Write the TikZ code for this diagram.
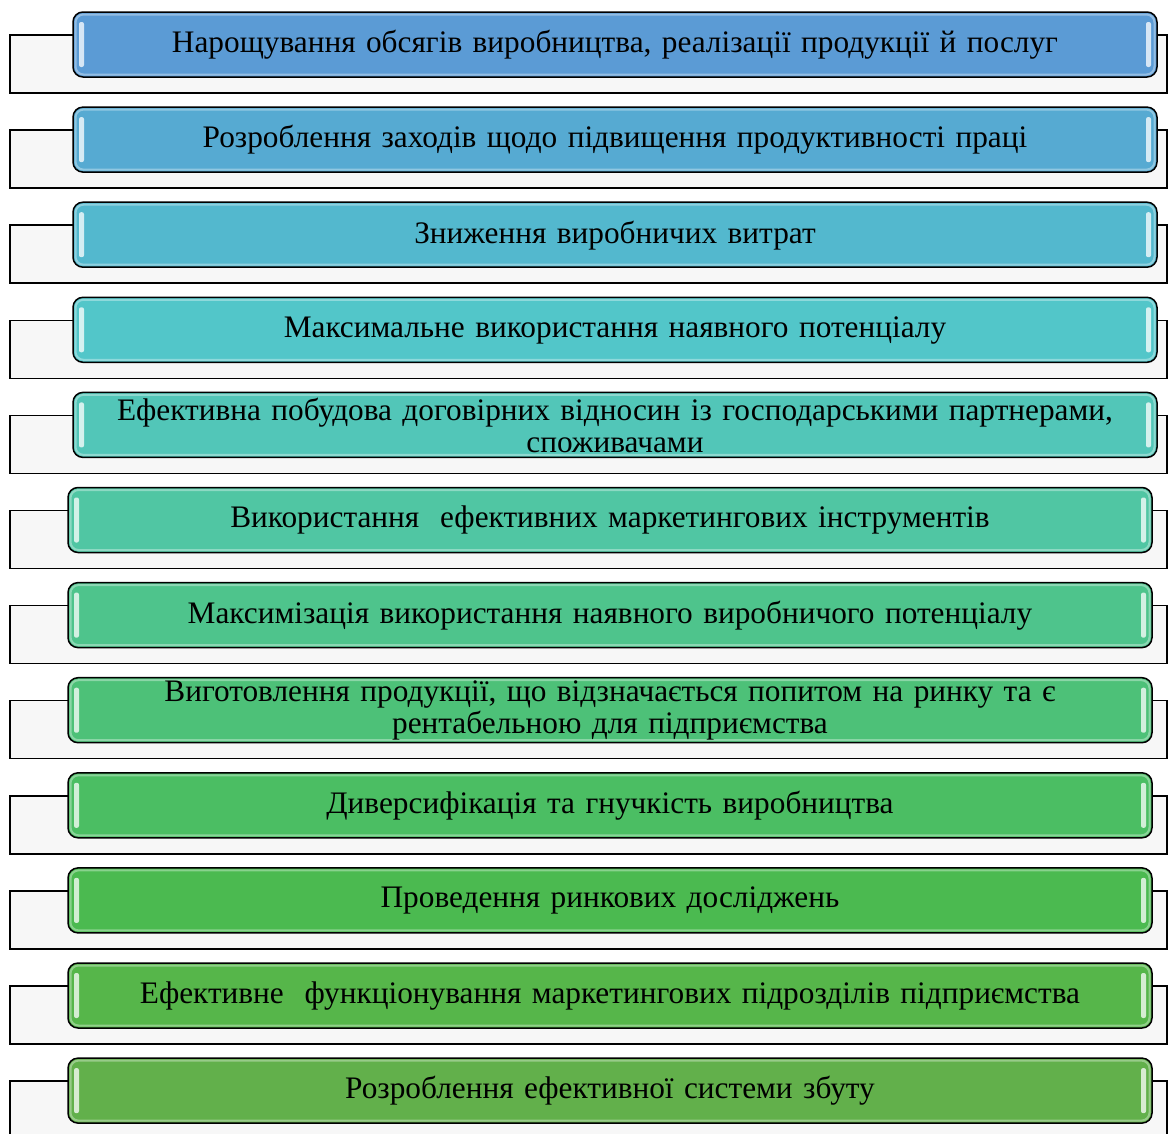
\documentclass[tikz,border=0pt]{standalone}
\usepackage{fontspec}
\setmainfont{Liberation Serif}
\usepackage{tikz}
\usetikzlibrary{calc}
\definecolor{rowA}{HTML}{5B9BD5}
\definecolor{rowB}{HTML}{56AAD2}
\definecolor{rowC}{HTML}{53B8CE}
\definecolor{rowD}{HTML}{52C6C9}
\definecolor{rowE}{HTML}{52C6B8}
\definecolor{rowF}{HTML}{50C6A3}
\definecolor{rowG}{HTML}{4EC48C}
\definecolor{rowH}{HTML}{4DC178}
\definecolor{rowI}{HTML}{4BBE63}
\definecolor{rowJ}{HTML}{4BBA50}
\definecolor{rowK}{HTML}{56B64A}
\definecolor{rowL}{HTML}{62B04B}
% (name:top:left:right)[colour]{text}
\def\planrow(#1:#2:#3:#4)[#5]#6{%
	\draw[line width=1.5pt, fill=black!3] (10, #2+23) rectangle (1167, #2+81);
	\draw[line width=1.5pt, fill=#5, rounded corners=10pt] (#3, #2) rectangle (#4, #2+65);
	\draw[line width=2pt, white, opacity=0.35, rounded corners=8pt] (#3+2.5, #2+2.5) rectangle (#4-2.5, #2+62.5);
	\fill[#5!25!white, rounded corners=2pt] (#3+6, #2+10) rectangle (#3+11, #2+55);
	\fill[#5!25!white, rounded corners=2pt] (#4-11, #2+10) rectangle (#4-6, #2+55);
	\node[text width=1060pt, align=center, font=\fontsize{31.3}{32}\selectfont, inner sep=0pt] (#1) at ({(#3+#4)/2}, #2+33) {#6};
}

\begin{document}
\begin{tikzpicture}[x=1pt, y=-1pt]
		%%%%% START %%%%%
		\useasboundingbox (0, 0) rectangle (1170, 1133);
		
		\planrow(obsyahy:12:73:1157)[rowA]{Нарощування обсягів виробництва, реалізації продукції й послуг}
		\planrow(pratsia:107.1:73:1157)[rowB]{Розроблення заходів щодо підвищення продуктивності праці}
		\planrow(vytraty:202.2:73:1157)[rowC]{Зниження виробничих витрат}
		\planrow(potentsial:297.3:73:1157)[rowD]{Максимальне використання наявного потенціалу}
		\planrow(partnery:392.4:73:1157)[rowE]{Ефективна побудова договірних відносин із господарськими партнерами,\\ споживачами}
		
		\planrow(marketynh:487.5:68:1152)[rowF]{Використання~ ефективних маркетингових інструментів}
		\planrow(vyrobnychyi:582.6:68:1152)[rowG]{Максимізація використання наявного виробничого потенціалу}
		\planrow(popyt:677.7:68:1152)[rowH]{Виготовлення продукції, що відзначається попитом на ринку та є\\ рентабельною для підприємства}
		\planrow(dyversyfikatsiia:772.8:68:1152)[rowI]{Диверсифікація та гнучкість виробництва}
		\planrow(doslidzhennia:867.9:68:1152)[rowJ]{Проведення ринкових досліджень}
		\planrow(pidrozdily:963:68:1152)[rowK]{Ефективне~ функціонування маркетингових підрозділів підприємства}
		\planrow(zbut:1058.1:68:1152)[rowL]{Розроблення ефективної системи збуту}
		
		%%%%% END %%%%%
	\end{tikzpicture}
\end{document}
